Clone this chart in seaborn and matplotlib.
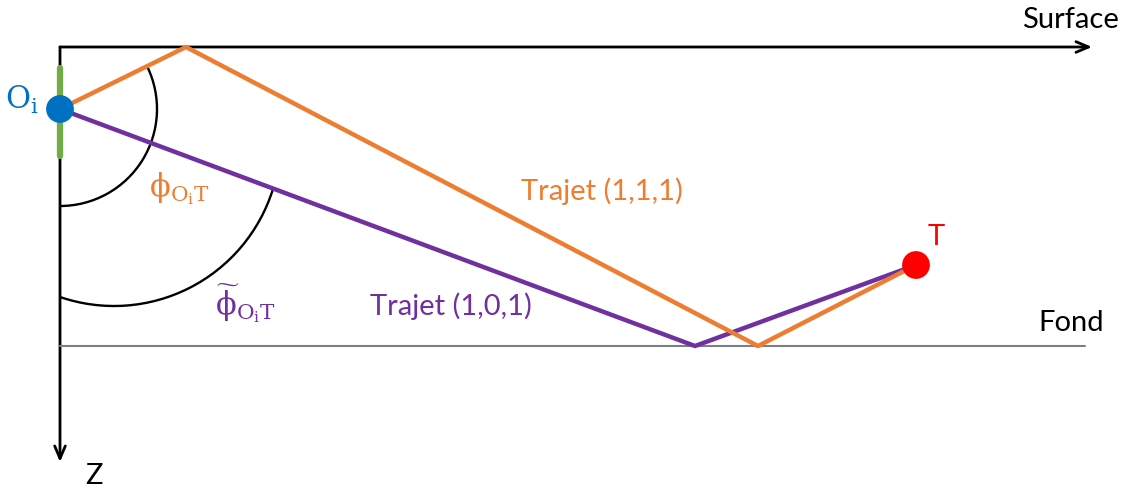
import matplotlib
matplotlib.use("Agg")
import matplotlib.pyplot as plt
from matplotlib.patches import Arc
import seaborn as sns
import pandas as pd

# ---- data (horizontal distance x, depth z; origin at surface/vertical axis) ----
orange_x = [0, 126, 698, 856]
orange_z = [62, 0, 299, 218]
purple_x = [0, 635, 856]
purple_z = [62, 299, 218]
source_xy = (0, 62)       # O_i
target_xy = (856, 218)    # T
fond_z = 299
fond_x = [0, 1025]
surface_end = 1032
depth_end = 415
sensor_z = [21, 109]

labels = {
    "oi": r"$\mathrm{O}_{\mathrm{i}}$",
    "phi": r"$\mathrm{\phi}_{\mathrm{O}_{\mathrm{i}}\mathrm{T}}$",
    "phit": r"$\widetilde{\mathrm{\phi}}_{\mathrm{O}_{\mathrm{i}}\mathrm{T}}$",
    "t111": "Trajet (1,1,1)",
    "t101": "Trajet (1,0,1)",
}

ORANGE = "#ED7D31"
PURPLE = "#7030A0"
BLUE = "#0070C0"
GREEN = "#70AD47"
RED = "#FF0000"

sns.set_theme(style="white")
plt.rcParams["font.family"] = ["Lato", "DejaVu Sans"]
plt.rcParams["mathtext.fontset"] = "dejavuserif"

fig = plt.figure(figsize=(11.28, 4.92), dpi=100)
ax = fig.add_axes([0, 0, 1, 1])
ax.set_xlim(-60, 1068)
ax.set_ylim(445, -47)
ax.axis("off")

# axes arrows
arrow_kw = dict(arrowstyle="->,head_length=0.75,head_width=0.32", color="black", lw=2.0,
                shrinkA=0, shrinkB=0)
ax.annotate("", xy=(surface_end, 0), xytext=(0, 0), arrowprops=arrow_kw, zorder=2)
ax.annotate("", xy=(0, depth_end), xytext=(0, 0), arrowprops=arrow_kw, zorder=2)

# bottom (fond)
sns.lineplot(x=fond_x, y=[fond_z, fond_z], ax=ax, color="#7F7F7F", lw=1.5, sort=False, estimator=None)

# sensor (green)
sns.lineplot(x=[0, 0], y=sensor_z, ax=ax, color=GREEN, lw=4.5, sort=False, estimator=None, zorder=4)

# arcs
ax.add_patch(Arc(source_xy, 2 * 97, 2 * 97, theta1=-26.2, theta2=90, color="black", lw=1.7))
ax.add_patch(Arc((54, 92.5), 2 * 166.5, 2 * 166.5, theta1=17.3, theta2=108.9, color="black", lw=1.7))

# paths
df_o = pd.DataFrame({"x": orange_x, "z": orange_z})
df_p = pd.DataFrame({"x": purple_x, "z": purple_z})
sns.lineplot(data=df_p, x="x", y="z", ax=ax, color=PURPLE, lw=3.2, sort=False, estimator=None)
sns.lineplot(data=df_o, x="x", y="z", ax=ax, color=ORANGE, lw=3.2, sort=False, estimator=None)

# points
sns.scatterplot(x=[source_xy[0]], y=[source_xy[1]], ax=ax, color=BLUE, s=400, edgecolor="none", zorder=5)
sns.scatterplot(x=[target_xy[0]], y=[target_xy[1]], ax=ax, color=RED, s=400, edgecolor="none", zorder=5)

# texts
ax.text(-38, 53, labels["oi"], color=BLUE, fontsize=22, ha="center", va="center")
ax.text(119, 142, labels["phi"], color=ORANGE, fontsize=22, ha="center", va="center")
ax.text(185, 256, labels["phit"], color=PURPLE, fontsize=22, ha="center", va="center")
ax.text(542, 144, labels["t111"], color=ORANGE, fontsize=21, ha="center", va="center")
ax.text(391, 259, labels["t101"], color=PURPLE, fontsize=21, ha="center", va="center")
ax.text(1010, -27, "Surface", color="black", fontsize=21, ha="center", va="center")
ax.text(1011, 276, "Fond", color="black", fontsize=21, ha="center", va="center")
ax.text(34, 429, "Z", color="black", fontsize=21, ha="center", va="center")
ax.text(876, 190, "T", color=RED, fontsize=21, ha="center", va="center")

fig.savefig("out.png", dpi=100)
